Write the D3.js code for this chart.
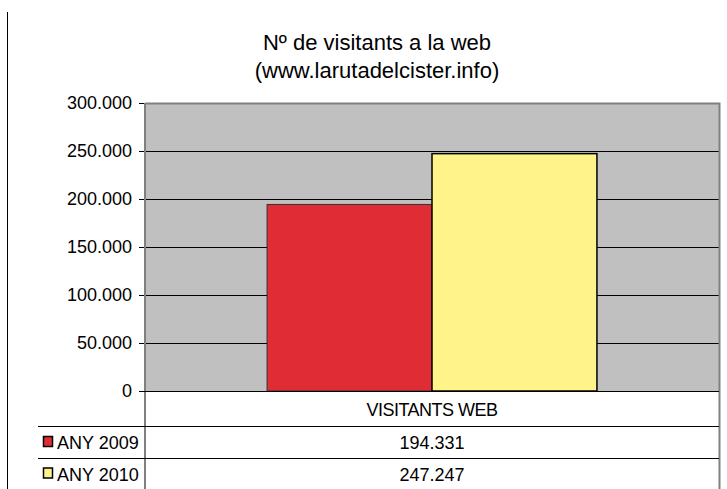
<!DOCTYPE html>
<html>
<head>
<meta charset="utf-8">
<script src="https://cdn.jsdelivr.net/npm/d3@7"></script>
<style>
  body { margin: 0; background: #fff; }
  text { font-family: "Liberation Sans", Arial, sans-serif; fill: #000; }
</style>
</head>
<body>
<div id="chart"></div>
<script>
// data
var categories = ["VISITANTS WEB"];
var seriesNames = ["ANY 2009", "ANY 2010"];
var seriesValues = [194331, 247247];
var seriesColors = ["#e02d35", "#fff38a"];
var yTicks = [0, 50000, 100000, 150000, 200000, 250000, 300000];

var W = 727, H = 489;
var pLeft = 145, pRight = 719, pTop = 103, pBottom = 391;
var rowY = [391, 426, 458, 489];

var loc = d3.formatLocale({ decimal: ",", thousands: ".", grouping: [3], currency: ["", "€"] });
var fmt = loc.format(",d");

var svg = d3.select("#chart").append("svg")
    .attr("width", W)
    .attr("height", H);

// outer frame line on left
svg.append("line")
    .attr("x1", 7.5).attr("x2", 7.5)
    .attr("y1", 12).attr("y2", H)
    .attr("stroke", "#000");

// title
svg.append("text")
    .attr("x", 377).attr("y", 50)
    .attr("text-anchor", "middle")
    .style("font-size", "22px")
    .text("Nº de visitants a la web");
svg.append("text")
    .attr("x", 377).attr("y", 78)
    .attr("text-anchor", "middle")
    .style("font-size", "22px")
    .text("(www.larutadelcister.info)");

var y = d3.scaleLinear().domain([0, 300000]).range([pBottom, pTop]);
var x0 = d3.scaleBand().domain(categories).range([pLeft, pRight]).paddingInner(0).paddingOuter(0);
// gap width ~150% like the excel chart
var x1 = d3.scaleBand().domain(seriesNames)
    .range([0, x0.bandwidth()])
    .paddingOuter(0.74).paddingInner(0);

// plot area
svg.append("rect")
    .attr("x", pLeft).attr("y", pTop)
    .attr("width", pRight - pLeft).attr("height", pBottom - pTop)
    .attr("fill", "#c0c0c0");

// gridlines
svg.append("g").selectAll("line")
    .data(yTicks.filter(function(d) { return d > 0 && d < 300000; }))
    .enter().append("line")
    .attr("x1", pLeft).attr("x2", pRight)
    .attr("y1", function(d) { return Math.round(y(d)) + 0.5; })
    .attr("y2", function(d) { return Math.round(y(d)) + 0.5; })
    .attr("stroke", "#000");

// bars
var g = svg.append("g");
categories.forEach(function(c) {
  seriesNames.forEach(function(s, i) {
    g.append("rect")
      .attr("x", x0(c) + x1(s))
      .attr("y", y(seriesValues[i]))
      .attr("width", x1.bandwidth())
      .attr("height", pBottom - y(seriesValues[i]))
      .attr("fill", seriesColors[i])
      .attr("stroke", i == 0 ? "#333" : "#000")
      .attr("stroke-width", i == 0 ? 1 : 1.5);
  });
});

// plot border top/right
svg.append("path")
    .attr("d", "M" + pLeft + "," + (pTop + 0.5) + "H" + (pRight + 0.5) + "V" + H)
    .attr("fill", "none")
    .attr("stroke", "#808080")
    .attr("stroke-width", 2);

// y axis
var yAxis = d3.axisLeft(y)
    .tickValues(yTicks)
    .tickSize(6)
    .tickFormat(fmt);
var ax = svg.append("g")
    .attr("transform", "translate(" + pLeft + ",0)")
    .call(yAxis);
ax.select(".domain").remove();
ax.selectAll(".tick line").attr("stroke", "#000");
ax.selectAll(".tick text")
    .attr("x", -13)
    .style("font-size", "18px")
    .style("font-family", "Liberation Sans, Arial, sans-serif")
    .attr("fill", "#000");

// vertical axis line through the table
svg.append("line")
    .attr("x1", pLeft).attr("x2", pLeft)
    .attr("y1", pTop).attr("y2", H)
    .attr("stroke", "#808080")
    .attr("stroke-width", 2);

// data table lines
svg.append("line")
    .attr("x1", pLeft - 6).attr("x2", pRight)
    .attr("y1", rowY[0] + 0.5).attr("y2", rowY[0] + 0.5)
    .attr("stroke", "#000");
[rowY[1], rowY[2]].forEach(function(ry) {
  svg.append("line")
    .attr("x1", 38).attr("x2", pRight)
    .attr("y1", ry + 0.5).attr("y2", ry + 0.5)
    .attr("stroke", "#000");
});

// category header
categories.forEach(function(c) {
  svg.append("text")
    .attr("x", x0(c) + x0.bandwidth() / 2)
    .attr("y", (rowY[0] + rowY[1]) / 2 + 7)
    .attr("text-anchor", "middle")
    .style("font-size", "18px")
    .style("letter-spacing", "-0.5px")
    .text(c);
});

// rows
seriesNames.forEach(function(s, i) {
  var cy = (rowY[i + 1] + rowY[i + 2]) / 2;
  svg.append("rect")
    .attr("x", 43.5).attr("y", cy - 5.5)
    .attr("width", 9).attr("height", 10)
    .attr("fill", seriesColors[i])
    .attr("stroke", "#000")
    .attr("stroke-width", 1.5);
  svg.append("text")
    .attr("x", 57).attr("y", cy + 7)
    .style("font-size", "18px")
    .text(s);
  categories.forEach(function(c) {
    svg.append("text")
      .attr("x", x0(c) + x0.bandwidth() / 2)
      .attr("y", cy + 7)
      .attr("text-anchor", "middle")
      .style("font-size", "18px")
      .text(fmt(seriesValues[i]));
  });
});
</script>
</body>
</html>
